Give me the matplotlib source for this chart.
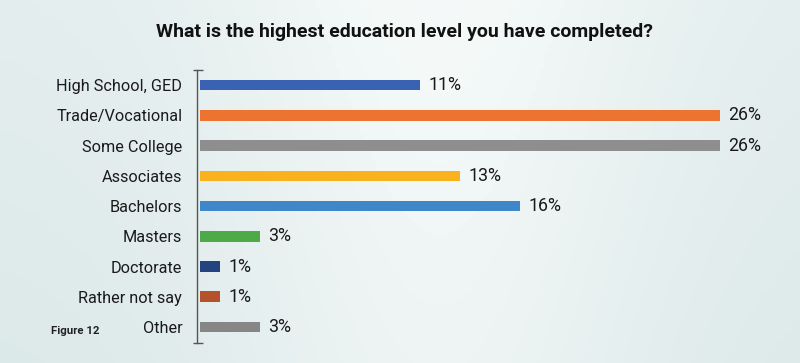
import matplotlib
matplotlib.use("Agg")
import matplotlib.pyplot as plt
import numpy as np

plt.rcParams['font.family'] = ['Roboto', 'DejaVu Sans']

categories = ["High School, GED", "Trade/Vocational", "Some College", "Associates",
              "Bachelors", "Masters", "Doctorate", "Rather not say", "Other"]
values = [11, 26, 26, 13, 16, 3, 1, 1, 3]
value_labels = ["11%", "26%", "26%", "13%", "16%", "3%", "1%", "1%", "3%"]
colors = ["#3A62B2", "#EC7330", "#8E8E8E", "#F9B11E", "#3F87C9",
          "#4EAA46", "#23447F", "#B4532B", "#868686"]
title = "What is the highest education level you have completed?"
figure_note = "Figure 12"

fig = plt.figure(figsize=(8, 3.63), dpi=100)
renderer = fig.canvas.get_renderer()


def fit_size(s, target_px, weight='normal', base=12.0):
    t = fig.text(0.5, 0.5, s, fontsize=base, fontweight=weight)
    w = t.get_window_extent(renderer).width
    t.remove()
    return base * target_px / w


lab_fs = fit_size("High School, GED", 125)
val_fs = fit_size("26%", 33)
title_fs = fit_size(title, 495, 'bold')
note_fs = fit_size(figure_note, 48, 'bold')

# soft background
bg = fig.add_axes([0, 0, 1, 1])
xx = np.linspace(0, 1, 200)
yy = np.linspace(0, 1, 100)
X, Y = np.meshgrid(xx, yy)
Z = 0.92 + 0.05 * np.exp(-((X - 0.55) ** 2) / 0.08) - 0.02 * Y
bg.imshow(Z, cmap='bone', vmin=0, vmax=1, aspect='auto', extent=[0, 1, 0, 1])
bg.set_axis_off()

ax = fig.add_axes([200 / 800, 20 / 363, 600 / 800, 273 / 363])
ax.set_facecolor('none')
y = np.arange(len(categories))
ax.barh(y, values, height=0.35, color=colors)
ax.set_xlim(0, 30)
ax.set_ylim(8.53, -0.5)

for yi, v, lab in zip(y, values, value_labels):
    ax.text(v + 0.4, yi, lab, va='center', ha='left', fontsize=val_fs, color='#1a1a1a')

ax.tick_params(axis='y', length=0, pad=10.8, labelsize=lab_fs, labelcolor='#1a1a1a')
ax.set_yticks(y)
ax.set_yticklabels(categories, fontsize=lab_fs, color='#1a1a1a')
ax.set_xticks([])
for s in ['top', 'right', 'bottom']:
    ax.spines[s].set_visible(False)
ax.spines['left'].set_position(('outward', 2))
ax.spines['left'].set_color('#555555')
ax.spines['left'].set_linewidth(1.0)

# end caps on the axis line
for yc in (-0.5, 8.53):
    ax.plot([-0.1], [yc], marker='_', markersize=7, color='#555555', clip_on=False,
            markeredgewidth=1.0)

fig.text(404.5 / 800, 1 - 32 / 363, title, ha='center', va='center', fontsize=title_fs,
         fontweight='bold', color='#111111')
fig.text(51 / 800, 1 - 331 / 363, figure_note, ha='left', va='center', fontsize=note_fs,
         fontweight='bold', color='#222222')

fig.savefig("out.png", dpi=100)
